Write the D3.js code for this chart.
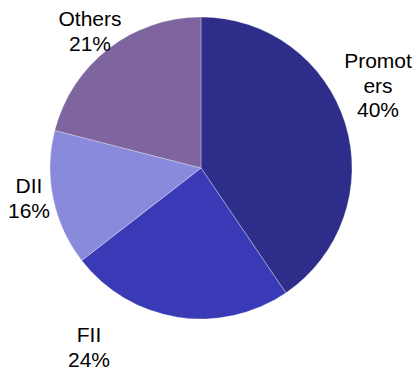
<!DOCTYPE html>
<html>
<head>
<meta charset="utf-8">
<script src="https://cdn.jsdelivr.net/npm/d3@7"></script>
<style>
  html, body { margin: 0; padding: 0; background: #fff; }
  svg text { font-family: "Liberation Sans", Arial, sans-serif; font-size: 21px; fill: #000; }
</style>
</head>
<body>
<div id="chart"></div>
<script>
// shareholding split
const categories = ["Promoters", "FII", "DII", "Others"];
const values = [40.5, 24, 14.5, 21];
const pctLabels = ["40%", "24%", "16%", "21%"];
// how the category names wrap in the labels
const nameLines = [["Promot", "ers"], ["FII"], ["DII"], ["Others"]];
const colors = ["#2e2d8a", "#3b3ab6", "#8a8adc", "#7f65a0"];

const w = 414, h = 370;
const cx = 201, cy = 168, r = 151;
const lineH = 24.5;

// where each label block sits (centre x, first baseline y)
const labelPos = [
  [378, 68],
  [89, 342],
  [29, 193],
  [90, 26]
];

const svg = d3.select("#chart")
  .append("svg")
  .attr("width", w)
  .attr("height", h);

const pie = d3.pie()
  .sort(null)
  .value((d) => d.value);

const arc = d3.arc()
  .innerRadius(0)
  .outerRadius(r);

const data = categories.map((c, i) => ({ name: c, value: values[i], i: i }));

const g = svg.append("g")
  .attr("transform", `translate(${cx}, ${cy})`);

g.selectAll(".slice")
  .data(pie(data))
  .enter().append("path")
  .attr("class", "slice")
  .attr("d", arc)
  .style("fill", (d) => colors[d.data.i])
  .style("stroke", "#ffffff")
  .style("stroke-opacity", 0.5)
  .style("stroke-width", 0.6);

// labels: name lines then percentage
const labels = svg.selectAll(".label")
  .data(data)
  .enter().append("text")
  .attr("class", "label")
  .attr("text-anchor", "middle");

labels.each((d, i, nodes) => {
  const t = d3.select(nodes[i]);
  const lines = nameLines[i].concat([pctLabels[i]]);
  lines.forEach((ln, k) => {
    t.append("tspan")
      .attr("x", labelPos[i][0])
      .attr("y", labelPos[i][1] + k * lineH)
      .text(ln);
  });
});
</script>
</body>
</html>
